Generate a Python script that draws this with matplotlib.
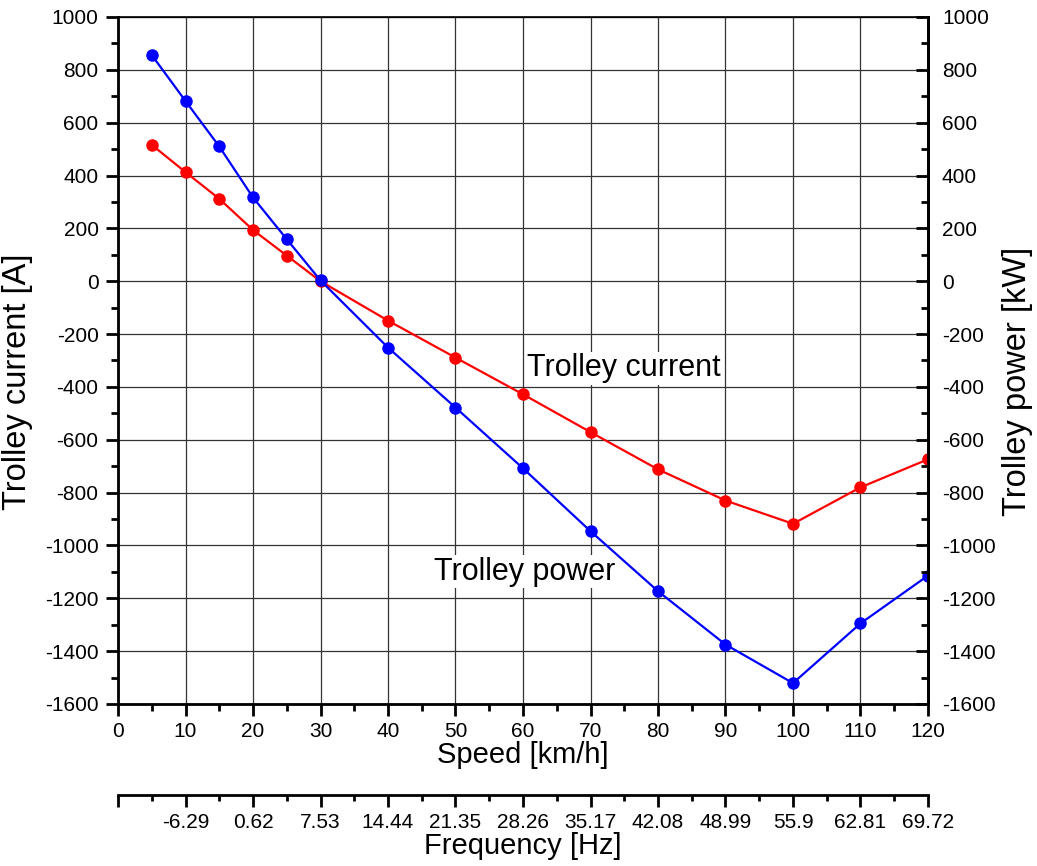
import matplotlib
matplotlib.use("Agg")
import matplotlib.pyplot as plt
from matplotlib.ticker import MultipleLocator

plt.rcParams["font.family"] = ["Liberation Sans", "DejaVu Sans"]
plt.rcParams["axes.unicode_minus"] = False

# speed [km/h]
speed = [5, 10, 15, 20, 25, 30, 40, 50, 60, 70, 80, 90, 100, 110, 120]
# trolley current [A]
current = [516, 413, 312, 194, 97, 0, -149, -289, -428, -571, -712, -830, -918, -780, -674]
# trolley power [kW]
power = [856, 682, 510, 317, 159, 3, -251, -478, -708, -946, -1173, -1375, -1521, -1295, -1114]

freq_ticks = [0, 10, 20, 30, 40, 50, 60, 70, 80, 90, 100, 110, 120]
freq_labels = ["", "-6.29", "0.62", "7.53", "14.44", "21.35", "28.26",
               "35.17", "42.08", "48.99", "55.9", "62.81", "69.72"]

TICK_FS = 15

fig = plt.figure(figsize=(10.37, 8.66), dpi=100)
ax = fig.add_axes([118 / 1037, 1 - 704 / 866, 810 / 1037, 687 / 866])

ax.plot(speed, current, color="#ff0000", lw=1.6, marker="o", ms=8, zorder=3)
ax.plot(speed, power, color="#0000ff", lw=1.6, marker="o", ms=8, zorder=3)

ax.set_xlim(0, 120)
ax.set_ylim(-1600, 1000)
ax.xaxis.set_major_locator(MultipleLocator(10))
ax.xaxis.set_minor_locator(MultipleLocator(5))
ax.yaxis.set_major_locator(MultipleLocator(200))
ax.yaxis.set_minor_locator(MultipleLocator(100))
ax.grid(True, which="major", color="#333333", lw=0.9)
ax.set_axisbelow(True)

for side in ("left", "bottom", "right"):
    ax.spines[side].set_linewidth(2)
ax.spines["top"].set_linewidth(1.2)
ax.tick_params(which="major", direction="out", length=8.5, width=2,
               labelsize=TICK_FS, pad=4.5)
ax.tick_params(which="minor", direction="out", length=5, width=2)
ax.tick_params(axis="y", which="major", pad=5.5)

ax.set_xlabel("Speed [km/h]", fontsize=21, labelpad=0)
ax.set_ylabel("Trolley current [A]", fontsize=23.5)
ax.yaxis.set_label_coords(-0.105, 0.469)

ax2 = ax.twinx()
ax2.set_ylim(-1600, 1000)
ax2.yaxis.set_major_locator(MultipleLocator(200))
ax2.yaxis.set_minor_locator(MultipleLocator(100))
ax2.tick_params(which="major", direction="in", length=8.5, width=2,
                labelsize=TICK_FS, pad=10)
ax2.tick_params(which="minor", direction="in", length=5, width=2)
ax2.spines["right"].set_linewidth(2)
ax2.set_ylabel("Trolley power [kW]", fontsize=23.5)
ax2.yaxis.set_label_coords(1.0914, 0.469)

sec = ax.secondary_xaxis(-0.1325)
sec.set_xticks(freq_ticks)
sec.set_xticklabels(freq_labels)
sec.xaxis.set_minor_locator(MultipleLocator(5))
sec.spines["bottom"].set_linewidth(2)
sec.tick_params(which="major", direction="out", length=8.5, width=2,
                labelsize=TICK_FS, pad=4.5)
sec.tick_params(which="minor", direction="out", length=4.5, width=2)
sec.set_xlabel("Frequency [Hz]", fontsize=21, labelpad=0)

box = dict(facecolor="white", edgecolor="none", pad=1)
ax.text(75.0, -360, "Trolley current", fontsize=22, ha="center", va="baseline",
        bbox=box, zorder=2)
ax.text(60.3, -1129, "Trolley power", fontsize=22, ha="center", va="baseline",
        bbox=box, zorder=2)

fig.savefig("out.png", dpi=100)
